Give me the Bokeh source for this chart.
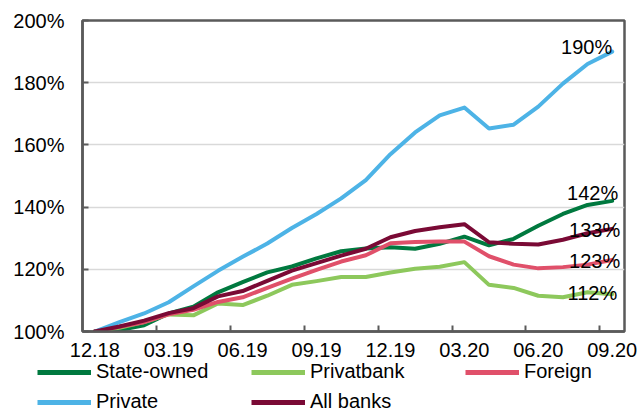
from bokeh.plotting import figure
from bokeh.models import Range1d, FixedTicker, Legend, LegendItem, ColumnDataSource
from bokeh.embed import file_html
from bokeh.resources import INLINE
from bokeh.core.properties import value

# Monthly index of loan portfolios, December 2018 = 100%
months = ["12.18", "01.19", "02.19", "03.19", "04.19", "05.19", "06.19", "07.19",
          "08.19", "09.19", "10.19", "11.19", "12.19", "01.20", "02.20", "03.20",
          "04.20", "05.20", "06.20", "07.20", "08.20", "09.20"]

state_owned = [100, 100.5, 102, 105.8, 108, 112.6, 115.9, 119, 120.9, 123.5, 125.8, 126.7,
               127.1, 126.6, 128.2, 130.5, 127.7, 129.8, 134, 137.8, 140.7, 142]
privatbank = [100, 101.2, 103, 105.5, 105.2, 109, 108.5, 111.5, 115, 116.2, 117.5, 117.5,
              119, 120.2, 120.8, 122.3, 115, 114, 111.5, 111, 112.6, 112]
foreign = [100, 101.5, 103, 105.5, 107, 109.5, 111, 114, 117, 119.8, 122.5, 124.5,
           128.4, 128.8, 128.9, 128.9, 124.2, 121.5, 120.3, 120.7, 121.5, 123]
private = [100, 103, 105.8, 109.4, 114.5, 119.5, 124, 128.3, 133.3, 137.8, 142.8, 148.7,
           157, 164, 169.5, 172, 165.3, 166.5, 172.3, 179.7, 186, 190]
all_banks = [100, 101.6, 103.5, 105.9, 107.5, 111.3, 113, 116.3, 119.6, 122, 124.4, 126.6,
             130.3, 132.3, 133.5, 134.5, 128.7, 128.2, 128, 129.5, 131.6, 133]

series_names = ["State-owned", "Privatbank", "Foreign", "Private", "All banks"]
series_values = [state_owned, privatbank, foreign, private, all_banks]
series_colors = ["#00793F", "#8DC85C", "#E0506A", "#4DB3E6", "#7A0A35"]

y_ticks = [100, 120, 140, 160, 180, 200]
label_every = 3

FONT = "Liberation Sans"
FONT_SIZE = "20px"
AXIS_GREY = "#5A5A5A"

x = list(range(len(months)))

p = figure(width=638, height=362, output_backend="svg", toolbar_location=None,
           x_range=Range1d(-0.5, len(months) - 0.5), y_range=Range1d(100, 200),
           min_border_left=82, min_border_right=14, min_border_top=20,
           min_border_bottom=31)
p.outline_line_color = AXIS_GREY
p.outline_line_width = 2.5

# x axis: labels on every third month, tick marks between categories
major = [i for i in x if i % label_every == 0]
minor = [i - 0.5 for i in major if i > 0]
p.xaxis.ticker = FixedTicker(ticks=major, minor_ticks=minor)
p.xaxis.major_label_overrides = {i: months[i] for i in major}
p.xaxis.major_tick_in = 0
p.xaxis.major_tick_out = 0
p.xaxis.minor_tick_in = 6
p.xaxis.minor_tick_out = 0
p.xaxis.minor_tick_line_color = AXIS_GREY
p.xaxis.minor_tick_line_width = 2
p.xaxis.major_label_standoff = 11

p.yaxis.ticker = FixedTicker(ticks=y_ticks)
p.yaxis.major_label_overrides = {t: f"{t}%" for t in y_ticks}
p.yaxis.major_tick_in = 6
p.yaxis.major_tick_out = 0
p.yaxis.minor_tick_line_color = None
p.yaxis.major_tick_line_color = AXIS_GREY
p.yaxis.major_tick_line_width = 2
p.yaxis.major_label_standoff = 18

for ax in (p.xaxis, p.yaxis):
    ax.axis_line_color = AXIS_GREY
    ax.axis_line_width = 2.5
    ax.major_label_text_font = FONT
    ax.major_label_text_font_size = FONT_SIZE
    ax.major_label_text_color = "#000000"

p.xgrid.grid_line_color = None
p.ygrid.grid_line_color = "#D9D9D9"
p.ygrid.grid_line_width = 1.5

for vals, col in zip(series_values, series_colors):
    p.line(x, vals, line_color=col, line_width=4, line_join="round", line_cap="round")

# end-of-series value labels
end_vals = [private[-1], state_owned[-1], all_banks[-1], foreign[-1], privatbank[-1]]
end_dx = [0, 6, 8, 8, 5]
end_dy = [-5, -8, 1, 1, -1]
lbl = ColumnDataSource(dict(x=[x[-1]] * len(end_vals), y=end_vals,
                            t=[f"{round(v)}%" for v in end_vals],
                            dx=end_dx, dy=end_dy))
p.text(x="x", y="y", text="t", x_offset="dx", y_offset="dy", source=lbl,
       text_align="right", text_baseline="alphabetic",
       text_font=value(FONT), text_font_size=FONT_SIZE, text_color="#000000")

# legend strip under the chart (its own root, so its frame spans the full width)
leg = figure(width=638, height=48, output_backend="svg", toolbar_location=None,
             x_range=Range1d(0, 1), y_range=Range1d(0, 1),
             x_axis_type=None, y_axis_type=None,
             min_border_left=0, min_border_right=0, min_border_top=0, min_border_bottom=0)
leg.outline_line_color = None
leg.grid.grid_line_color = None
items = []
for name, col in zip(series_names, series_colors):
    r = leg.line([5, 6], [5, 6], line_color=col, line_width=5)
    items.append(LegendItem(label=name, renderers=[r]))

legend = Legend(items=items, location=(37, -3), orientation="horizontal", ncols=3,
                glyph_width=54, glyph_height=20, label_height=20, label_width=148,
                label_standoff=5, spacing=7, padding=0, margin=0,
                border_line_color=None, background_fill_alpha=0,
                label_text_font=FONT, label_text_font_size=FONT_SIZE,
                label_text_color="#000000")
leg.add_layout(legend)

open("out.html", "w").write(file_html([p, leg], INLINE))
